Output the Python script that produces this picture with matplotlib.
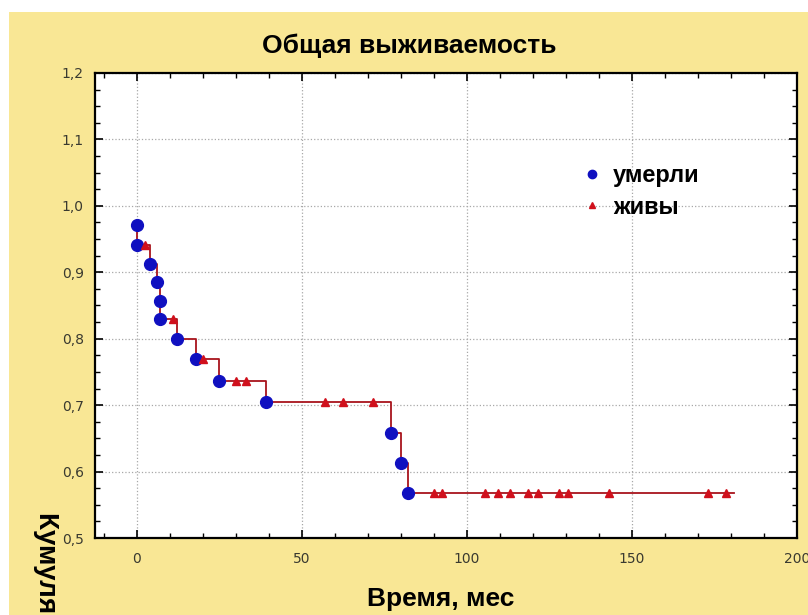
import matplotlib
matplotlib.use('Agg')

import matplotlib.pyplot as plt
from matplotlib.patches import Rectangle
from matplotlib.lines import Line2D
from matplotlib.ticker import MultipleLocator, FuncFormatter

# Kaplan-Meier curve (months, cumulative share)
step_t = [0, 0, 4, 6, 7, 7, 12, 18, 25, 39, 77, 80, 82, 181]
step_s = [0.971, 0.941, 0.912, 0.885, 0.857, 0.829, 0.800, 0.769, 0.737,
          0.705, 0.658, 0.613, 0.568, 0.568]

# deaths (умерли)
dead_t = [0, 0, 4, 6, 7, 7, 12, 18, 25, 39, 77, 80, 82]
dead_s = [0.971, 0.941, 0.912, 0.885, 0.857, 0.829, 0.800, 0.769, 0.737,
          0.705, 0.658, 0.613, 0.568]

# censored (живы)
alive_t = [2.5, 11, 20, 30, 33, 57, 62.5, 71.5, 90, 92.5, 105.5, 109.5,
           113, 118.5, 121.5, 128, 130.5, 143, 173, 178.5]
alive_s = [0.941, 0.829, 0.769, 0.737, 0.737, 0.705, 0.705, 0.705,
           0.568, 0.568, 0.568, 0.568, 0.568, 0.568, 0.568, 0.568,
           0.568, 0.568, 0.568, 0.568]

x_ticks = [0, 50, 100, 150, 200]
y_ticks = [0.5, 0.6, 0.7, 0.8, 0.9, 1.0, 1.1, 1.2]

W, H = 808, 615
fig = plt.figure(figsize=(W / 100, H / 100), dpi=100)
fig.patch.set_facecolor('white')
# yellow panel behind the chart, white strip on top and left
bg = Rectangle((9 / W, 0), 1, 1 - 12 / H, transform=fig.transFigure,
               facecolor='#f9e795', edgecolor='none', zorder=-10)
fig.patches.append(bg)

ax = fig.add_axes([95 / W, 1 - 538 / H, (797 - 95) / W, (538 - 73) / H])
ax.set_facecolor('white')

ax.step(step_t, step_s, where='post', color='#a8141c', lw=1.3, zorder=3)
ax.plot(dead_t, dead_s, 'o', color='#1010c0', ms=8.5, zorder=4)
ax.plot(alive_t, alive_s, '^', color='#d0101c', ms=6, zorder=5)

ax.set_xlim(-12.7, 200)
ax.set_ylim(0.5, 1.2)
ax.set_xticks(x_ticks)
ax.set_yticks(y_ticks)
ax.xaxis.set_minor_locator(MultipleLocator(10))
ax.yaxis.set_minor_locator(MultipleLocator(0.025))
ax.yaxis.set_major_formatter(FuncFormatter(lambda v, p: f'{v:.1f}'.replace('.', ',')))

ax.tick_params(which='both', direction='in', top=True, right=True, color='black')
ax.tick_params(which='major', length=6, width=1.2, labelsize=10, labelcolor='#3a3a30')
ax.tick_params(which='minor', length=3.5, width=1)
ax.tick_params(axis='y', pad=8)
ax.tick_params(axis='x', pad=10)
ax.grid(True, which='major', ls=':', color='#a8a8a8', lw=0.9)
for sp in ax.spines.values():
    sp.set_linewidth(1.6)

fig.text(409 / W, 1 - 46 / H, 'Общая выживаемость', ha='center', va='center',
         fontsize=19, fontweight='bold', family='Liberation Sans')
fig.text(441 / W, 1 - 599 / H, 'Время, мес', ha='center', va='center',
         fontsize=19, fontweight='bold', family='Liberation Sans')
# the y label runs off the bottom of the picture, as in the original
fig.text(46 / W, 1 - 512 / H, 'Кумулятивная доля выживших', ha='center', va='top',
         rotation=270, fontsize=20, fontweight='bold', family='Liberation Sans')

handles = [Line2D([], [], ls='none', marker='o', color='#1010c0', ms=6),
           Line2D([], [], ls='none', marker='^', color='#d0101c', ms=5)]
ax.legend(handles, ['умерли', 'живы'], loc='upper left',
          bbox_to_anchor=(561 / W, 1 - 143 / H), bbox_transform=fig.transFigure,
          frameon=False, handlelength=0.8, handletextpad=0.5, labelspacing=0.35,
          prop={'family': 'Liberation Sans', 'weight': 'bold', 'size': 17})

fig.savefig('out.png', dpi=100)
